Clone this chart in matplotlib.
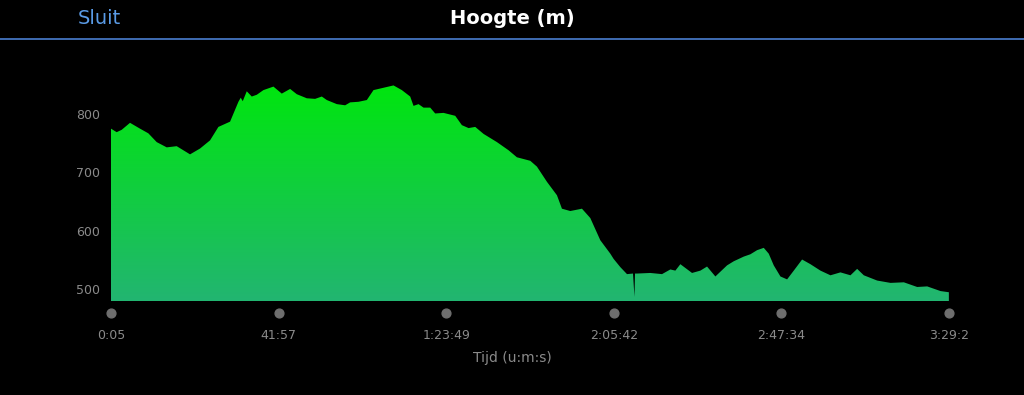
import matplotlib.pyplot as plt
import numpy as np
from matplotlib.colors import LinearSegmentedColormap
from matplotlib.transforms import blended_transform_factory

# tijd in seconden, hoogte in meter
tijd = [5, 90, 165, 290, 440, 565, 690, 840, 990, 1190, 1340, 1490, 1615,
        1790, 1915, 1950, 1980, 2040, 2115, 2190, 2290, 2440, 2565, 2690, 2790,
        2940, 3065, 3165, 3240, 3390, 3515, 3590, 3715, 3840, 3940, 4090, 4240,
        4365, 4490, 4540, 4615, 4690, 4790, 4865, 4990, 5165, 5265, 5365, 5465,
        5590, 5790, 5965, 6090, 6290, 6390, 6540, 6690, 6765, 6890, 7065, 7190,
        7340, 7490, 7540, 7640, 7740, 7830, 7852, 7860, 7890,
        8090, 8265, 8390, 8465, 8540, 8715, 8840, 8940, 9065, 9240, 9340, 9490,
        9590, 9690, 9790, 9865, 9940, 10040, 10140, 10240, 10365, 10490, 10640,
        10790, 10940, 11090, 11190, 11290, 11490, 11690, 11890, 12090, 12240,
        12440, 12565]
hoogte = [775, 769, 773, 785, 775, 767, 752, 743, 745, 731, 741, 755, 778,
          787, 821, 828, 822, 839, 830, 833, 841, 847, 835, 843, 834,
          827, 826, 830, 824, 817, 815, 820, 821, 824, 841, 845, 849,
          841, 830, 814, 817, 811, 811, 801, 802, 797, 781, 776, 778,
          766, 752, 738, 726, 720, 710, 684, 661, 638, 634, 638, 622,
          584, 561, 552, 538, 526, 527, 487, 527, 527,
          528, 526, 534, 532, 543, 528, 532, 539, 522, 541, 548, 556,
          560, 567, 571, 561, 541, 522, 517, 532, 551, 543, 532,
          524, 529, 524, 535, 524, 515, 511, 512, 504, 505,
          497, 495]

x_ticks = [5, 2517, 5029, 7542, 10054, 12567]
x_labels = ['0:05', '41:57', '1:23:49', '2:05:42', '2:47:34', '3:29:2']
y_ticks = [500, 600, 700, 800]

fig = plt.figure(figsize=(10.24, 3.95), dpi=100, facecolor='black')
ax = fig.add_axes([111 / 1024, 1 - 301 / 395, 838 / 1024, 222 / 395])
ax.set_facecolor('black')
ax.set_xlim(x_ticks[0], x_ticks[-1])
ax.set_ylim(480, 860)

# gradient vulling
cmap = LinearSegmentedColormap.from_list('g', ['#22b571', '#00e60e'])
grad = np.linspace(0, 1, 256).reshape(-1, 1)
img = ax.imshow(grad, cmap=cmap, origin='lower', aspect='auto',
                extent=[x_ticks[0], x_ticks[-1], 480, 850], zorder=1)
poly = ax.fill_between(tijd, hoogte, 480, facecolor='none', edgecolor='none')
img.set_clip_path(poly.get_paths()[0], transform=ax.transData)

for s in ax.spines.values():
    s.set_visible(False)
ax.set_yticks(y_ticks)
ax.tick_params(axis='y', colors='#8a8a8a', labelsize=9, length=0, pad=8)
ax.set_xticks(x_ticks)
ax.set_xticklabels(x_labels)
ax.tick_params(axis='x', colors='#8a8a8a', labelsize=9, length=0, pad=20)

# grijze bolletjes bij de x-ticks
tr = blended_transform_factory(ax.transData, ax.transAxes)
ax.scatter(x_ticks, [-12 / 222] * len(x_ticks), s=40, color='#6e6e6e',
           transform=tr, clip_on=False, zorder=3)

fig.text(0.5, 1 - 358 / 395, 'Tijd (u:m:s)', color='#8a8a8a', fontsize=10,
         ha='center', va='center')

# kopregel
fig.text(0.5, 1 - 19 / 395, 'Hoogte (m)', color='white', fontsize=14,
         ha='center', va='center', fontweight='semibold')
fig.text(78 / 1024, 1 - 18 / 395, 'Sluit', color='#5a9be6', fontsize=14,
         ha='left', va='center')
fig.add_artist(plt.Line2D([0, 1], [1 - 39 / 395] * 2, color='#4a7fd0', lw=1.2,
                          transform=fig.transFigure))

fig.savefig('out.png', facecolor='black')
